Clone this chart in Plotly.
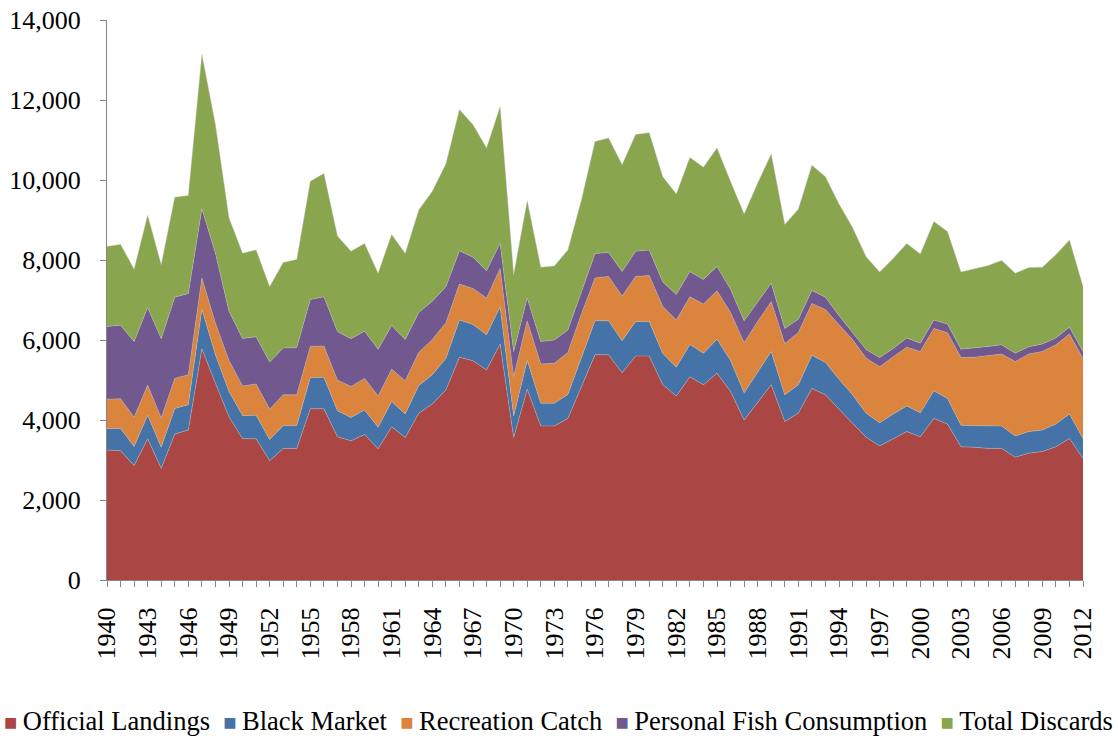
import plotly.graph_objects as go

years = list(range(1940, 2013))

official_landings = [3250, 3230, 2860, 3530, 2790, 3650, 3750, 5780, 4920, 4080,
                     3530, 3530, 2980, 3290, 3290, 4280, 4280, 3580, 3480, 3640,
                     3280, 3830, 3560, 4170, 4400, 4750, 5570, 5480, 5250, 5900,
                     3560, 4770, 3850, 3850, 4040, 4830, 5630, 5630, 5180, 5600,
                     5600, 4880, 4600, 5080, 4880, 5170, 4710, 4000, 4430, 4880,
                     3960, 4170, 4790, 4630, 4270, 3920, 3570, 3350, 3540, 3710,
                     3580, 4040, 3900, 3330, 3320, 3290, 3290, 3070, 3170, 3210,
                     3330, 3540, 3040]

black_market = [540, 560, 480, 590, 530, 640, 630, 990, 710, 630,
                580, 590, 530, 570, 570, 780, 790, 650, 580, 610,
                540, 630, 590, 690, 730, 790, 930, 910, 880, 930,
                540, 720, 570, 570, 600, 750, 850, 850, 800, 860,
                860, 780, 720, 810, 790, 850, 780, 680, 760, 830,
                670, 710, 830, 810, 750, 710, 600, 580, 610, 640,
                600, 690, 640, 540, 540, 560, 560, 530, 540, 540,
                570, 610, 500]

recreation_catch = [730, 740, 730, 750, 730, 750, 750, 780, 790, 780,
                    740, 780, 760, 770, 770, 780, 780, 770, 780, 790,
                    780, 810, 830, 830, 880, 890, 900, 900, 920, 960,
                    980, 990, 980, 1000, 1050, 1070, 1070, 1110, 1120, 1130,
                    1150, 1180, 1180, 1190, 1230, 1210, 1200, 1250, 1270, 1250,
                    1280, 1310, 1290, 1320, 1360, 1380, 1380, 1400, 1430, 1470,
                    1530, 1560, 1640, 1690, 1710, 1760, 1800, 1860, 1940, 1960,
                    1980, 2000, 2000]

personal_consumption = [1820, 1840, 1890, 1940, 1980, 2030, 2030, 1730, 1750, 1230,
                        1190, 1180, 1180, 1170, 1180, 1170, 1230, 1210, 1190, 1180,
                        1170, 1090, 1030, 1000, 960, 900, 830, 780, 680, 630,
                        630, 570, 560, 580, 560, 560, 610, 600, 610, 630,
                        640, 610, 640, 630, 610, 610, 580, 550, 480, 460,
                        380, 330, 330, 310, 230, 170, 210, 230, 210, 230,
                        210, 210, 220, 210, 230, 230, 230, 210, 180, 190,
                        170, 170, 170]

total_discards = [2000, 2020, 1810, 2310, 1850, 2500, 2450, 3860, 3210, 2330,
                  2130, 2170, 1880, 2140, 2200, 2960, 3080, 2390, 2190, 2190,
                  1900, 2280, 2150, 2560, 2750, 3070, 3530, 3310, 3070, 3410,
                  1920, 2430, 1860, 1850, 2000, 2290, 2800, 2860, 2670, 2920,
                  2930, 2630, 2510, 2850, 2810, 2960, 2690, 2670, 2980, 3230,
                  2600, 2750, 3130, 3010, 2790, 2630, 2320, 2140, 2250, 2360,
                  2230, 2460, 2310, 1930, 1980, 2020, 2110, 2000, 1980, 1920,
                  2080, 2180, 1630]

series_names = ["Official Landings", "Black Market", "Recreation Catch",
                "Personal Fish Consumption", "Total Discards"]
series_values = [official_landings, black_market, recreation_catch,
                 personal_consumption, total_discards]
colors = ["#AA4643", "#4572A7", "#DB843D", "#71588F", "#89A54E"]

tick_years = list(range(1940, 2013, 3))

FONT = "Liberation Serif, Times New Roman, serif"

fig = go.Figure()
for name, vals, col in zip(series_names, series_values, colors):
    fig.add_trace(go.Scatter(
        x=years, y=vals, name=name, mode="lines", stackgroup="one",
        line=dict(width=0.6, color="rgba(190,190,190,0.7)"),
        fillcolor=col, showlegend=False,
    ))

# legend as a single line of text below the chart
legend_parts = []
for name, col in zip(series_names, colors):
    legend_parts.append(
        f"<span style='color:{col};font-size:22px'>■&nbsp;</span>{name}")
legend_text = "&nbsp;&nbsp;".join(legend_parts)

fig.add_annotation(
    text=legend_text, xref="paper", yref="paper", x=0.463, y=-0.2815,
    xanchor="center", yanchor="bottom", showarrow=False,
    font=dict(family=FONT, size=26.5, color="black"),
)

axis_color = "#868686"
fig.update_layout(
    width=1118, height=738,
    margin=dict(l=107, r=35, t=20, b=158, autoexpand=False),
    paper_bgcolor="white", plot_bgcolor="white",
    font=dict(family=FONT, size=26, color="black"),
    xaxis=dict(
        range=[1940, 2012], tickmode="array", tickvals=tick_years,
        ticktext=[str(y) for y in tick_years], tickangle=-90,
        ticks="outside", ticklen=6, tickcolor=axis_color, tickwidth=1,
        showline=True, linecolor=axis_color, linewidth=1,
        showgrid=False, zeroline=False, ticklabelstandoff=10,
        automargin=False, ticklabeloverflow="allow",
        minor=dict(dtick=1, tick0=1940, ticks="outside", ticklen=6,
                   tickcolor=axis_color, showgrid=False),
        tickfont=dict(family=FONT, size=26),
    ),
    yaxis=dict(
        range=[0, 14000], dtick=2000, tickformat=",",
        ticks="outside", ticklen=6, tickcolor=axis_color, tickwidth=1,
        showline=True, linecolor=axis_color, linewidth=1,
        showgrid=False, zeroline=False, ticklabelstandoff=14,
        automargin=False, ticklabeloverflow="allow",
        tickfont=dict(family=FONT, size=26),
    ),
)

fig.write_html("out.html", config={"displayModeBar": False},
               post_script="document.body.style.margin='0px';")
